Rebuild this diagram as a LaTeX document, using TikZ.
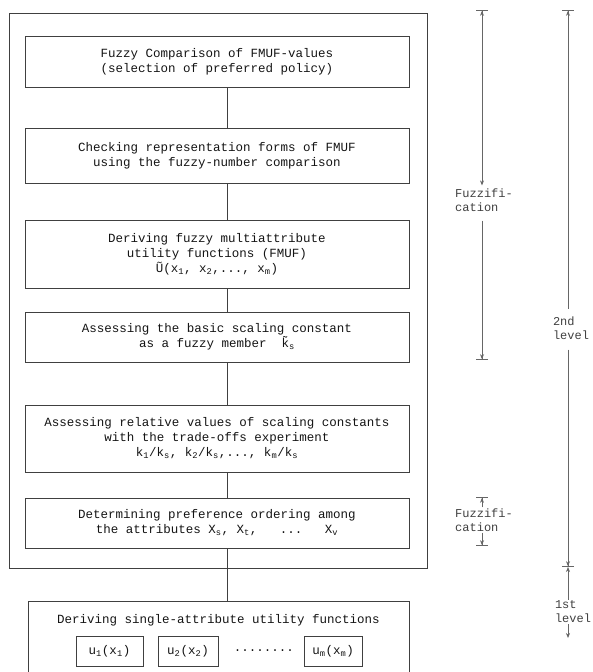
\documentclass[tikz,border=0pt]{standalone}
\usepackage{fontspec}
\setmonofont{Liberation Mono}
\usepackage{tikz}
\newcommand*{\boxW}{384}
\newcommand*{\midX}{217}
\newcommand*{\dimX}{482}
\newcommand*{\levX}{568}
\usetikzlibrary{positioning}
\usetikzlibrary{calc}
\usetikzlibrary{arrows.meta}
\tikzset{
  DimBar/.tip={Bar[width=12pt,line width=0.8pt]},
  DimHead/.tip={Stealth[length=5pt,width=4pt]},
  StepBox/.style={% the steps of the procedure
    draw=black!75,
    line width=0.9pt,
    minimum width=\boxW pt,
    align=center,
    inner sep=2pt,
    text=black!92,
    font=\ttfamily\fontsize{12.5}{15}\selectfont
  },
  InnerBox/.style={
    draw=black!75,
    line width=0.9pt,
    minimum height=30pt,
    inner sep=1pt,
    text=black!92,
    font=\ttfamily\fontsize{12.5}{15}\selectfont
  },
  Link/.style={draw=black!75, line width=0.9pt},
  DimLine/.style={draw=black!60, line width=0.7pt},
  DimLabel/.style={
    align=left,
    inner sep=1pt,
    text=black!75,
    font=\ttfamily\fontsize{12}{14}\selectfont
  }
}

\begin{document}
\begin{tikzpicture}[x=1pt,y=-1pt]
    \useasboundingbox (0,0) rectangle (592,672);
    % second level frame
    \draw[Link] (9,13) rectangle (427,568);
    \coordinate (spine) at (227,0);

    \node[StepBox, minimum height=51pt] (compare) at (\midX,61.5)
        {Fuzzy Comparison of FMUF-values\\(selection of preferred policy)};
    \node[StepBox, minimum height=55pt] (check) at (\midX,155.5)
        {Checking representation forms of FMUF\\using the fuzzy-number comparison};
    \node[StepBox, minimum height=68pt] (derive) at (\midX,254)
        {Deriving fuzzy multiattribute\\utility functions (FMUF)\\
         Ũ(x\textsubscript{1}, x\textsubscript{2},..., x\textsubscript{m})};
    \node[StepBox, minimum height=50pt] (basic) at (\midX,337)
        {Assessing the basic scaling constant\\
         as a fuzzy member \ k̃\textsubscript{s}};
    \node[StepBox, minimum height=67pt] (relative) at (\midX,438.5)
        {Assessing relative values of scaling constants\\
         with the trade-offs experiment\\
         k\textsubscript{1}/k\textsubscript{s}, k\textsubscript{2}/k\textsubscript{s},...,
         k\textsubscript{m}/k\textsubscript{s}};
    \node[StepBox, minimum height=50pt] (order) at (\midX,523)
        {Determining preference ordering among\\
         the attributes X\textsubscript{s}, X\textsubscript{t}, \ \ ... \ \ X\textsubscript{v}};
    \node[StepBox, minimum width=381pt, minimum height=79pt] (single) at (218.5,640.5) {};
    \node[StepBox, draw=none, minimum width=0pt] (singleText) at (218.5,620)
        {Deriving single-attribute utility functions};
    \node[InnerBox, minimum width=67pt] (uOne) at (109.5,651) {u\textsubscript{1}(x\textsubscript{1})};
    \node[InnerBox, minimum width=60pt] (uTwo) at (188,651) {u\textsubscript{2}(x\textsubscript{2})};
    \node[InnerBox, draw=none] (uDots) at (264,651) {........};
    \node[InnerBox, minimum width=58pt] (uLast) at (333,651) {u\textsubscript{m}(x\textsubscript{m})};

    \foreach \a/\b in {compare/check, check/derive, derive/basic, basic/relative, relative/order, order/single} {
        \draw[Link] (\a.south -| spine) -- (\b.north -| spine);
    }

    % fuzzification marks
    \coordinate (fTop) at (\dimX,10);
    \coordinate (fBot) at (\dimX,360);
    \node[DimLabel] (fuzzA) at (484,200) {Fuzzifi-\\cation};
    \draw[DimLine, {DimBar[]DimHead[]}-{DimHead[]}, shorten >=2pt] (fTop) -- (fTop |- fuzzA.north);
    \draw[DimLine, -{DimHead[]DimBar[]}, shorten <=8pt] (fBot |- fuzzA.south) -- (fBot);

    \coordinate (gTop) at (\dimX,497);
    \coordinate (gBot) at (\dimX,546);
    \node[DimLabel] (fuzzB) at (484,520) {Fuzzifi-\\cation};
    \draw[DimLine, -{DimHead[]DimBar[]}] (gTop |- fuzzB.north) -- (gTop);
    \draw[DimLine, -{DimHead[]DimBar[]}] (gBot |- fuzzB.south) -- (gBot);

    % levels
    \coordinate (lTop) at (\levX,10);
    \coordinate (lMid) at (\levX,567);
    \coordinate (lEnd) at (\levX,638);
    \node[DimLabel] (second) at (571,328) {2nd\\level};
    \node[DimLabel] (first) at (573,612) {1st\\level};
    \draw[DimLine, {DimBar[]DimHead[]}-, shorten >=6pt] (lTop) -- (lTop |- second.north);
    \draw[DimLine, -{DimHead[]DimBar[]}, shorten <=9pt] (lMid |- second.south) -- (lMid);
    \draw[DimLine, {DimHead[]}-] (lMid) -- (lMid |- first.north);
    \draw[DimLine, -{DimHead[]}] (lEnd |- first.south) -- (lEnd);
\end{tikzpicture}
\end{document}
